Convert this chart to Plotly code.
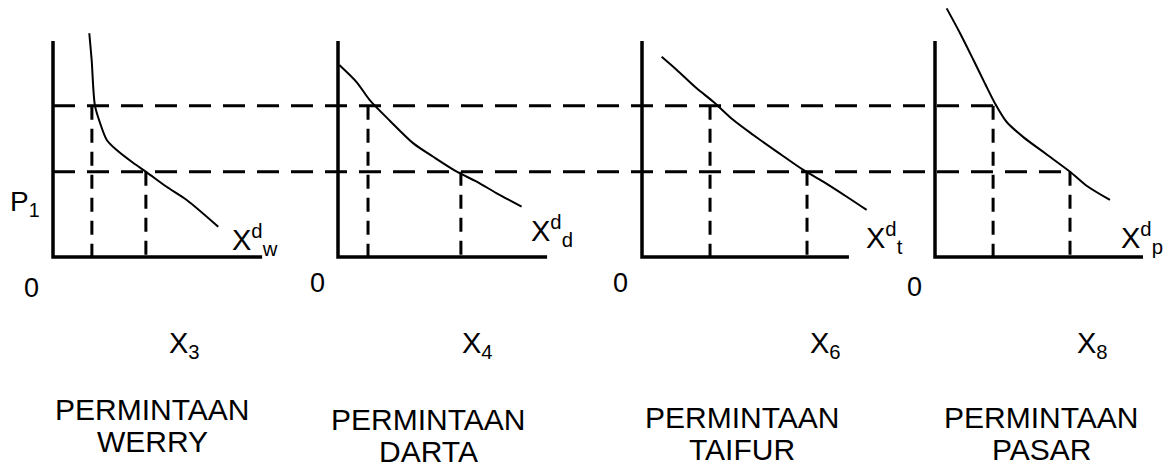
import plotly.graph_objects as go

# ---------------- data ----------------
PANEL_NAMES = ["WERRY", "DARTA", "TAIFUR", "PASAR"]
DEMAND_SUB = ["w", "d", "t", "p"]
QTY_SUB = ["3", "4", "6", "8"]
TITLE_WORD = "PERMINTAAN"

P_HIGH = 7.0      # upper price line
P_ONE = 3.95      # price P1

# demand curves: quantity / price pairs
WERRY_Q = [1.68, 1.79, 1.94, 2.18, 2.49, 2.95, 3.72, 4.34, 5.26, 6.19, 7.65]
WERRY_P = [10.36, 9.12, 7.02, 6.20, 5.42, 4.95, 4.35, 3.92, 3.25, 2.64, 1.40]
DARTA_Q = [0.06, 0.86, 1.48, 2.41, 3.49, 4.41, 5.50, 6.42, 7.35, 8.50]
DARTA_P = [8.89, 8.10, 7.25, 6.30, 5.26, 4.64, 3.95, 3.49, 2.95, 2.33]
TAIFUR_Q = [0.91, 1.61, 2.53, 3.30, 4.23, 5.15, 6.24, 7.47, 8.39, 9.48, 10.40]
TAIFUR_P = [9.27, 8.66, 7.81, 7.19, 6.34, 5.65, 4.88, 4.03, 3.49, 2.79, 2.18]
PASAR_Q = [0.54, 1.16, 1.78, 2.31, 2.78, 3.32, 4.09, 5.10, 6.25, 7.02, 8.10]
PASAR_P = [11.51, 10.36, 9.12, 8.04, 7.11, 6.25, 5.55, 4.80, 3.95, 3.30, 2.64]

# quantities demanded at the two prices
Q_AT_HIGH = [1.80, 1.39, 3.15, 2.69]
Q_AT_P1 = [4.30, 5.69, 7.64, 6.25]

CURVES_Q = [WERRY_Q, DARTA_Q, TAIFUR_Q, PASAR_Q]
CURVES_P = [WERRY_P, DARTA_P, TAIFUR_P, PASAR_P]

# ---------------- layout constants ----------------
W, H = 1169, 470
S = 21.6            # pixels per unit
BASE_PX = 257       # pixel row of the quantity axes
ORIGIN_PX = [53, 338, 642, 935]
AXIS_TOP = 10.0
AXIS_LEN = [9.68, 9.68, 9.58, 9.63]
FONT = "Liberation Sans, Arial, sans-serif"


def xu(px):
    return px / S


def yu(py):
    return (BASE_PX - py) / S


ORIGIN = [xu(p) for p in ORIGIN_PX]

fig = go.Figure()

# axes of each panel
for i in range(4):
    o = ORIGIN[i]
    fig.add_trace(go.Scatter(x=[o, o, o + AXIS_LEN[i]], y=[AXIS_TOP, 0, 0],
                             mode="lines", line=dict(color="black", width=3.5),
                             hoverinfo="skip"))

# horizontal price lines across all panels
fig.add_trace(go.Scatter(x=[ORIGIN[0], ORIGIN[3] + Q_AT_HIGH[3]], y=[P_HIGH, P_HIGH],
                         mode="lines", line=dict(color="black", width=3, dash="22px,12px"),
                         hoverinfo="skip"))
fig.add_trace(go.Scatter(x=[ORIGIN[0], ORIGIN[3] + Q_AT_P1[3]], y=[P_ONE, P_ONE],
                         mode="lines", line=dict(color="black", width=3, dash="22px,12px"),
                         hoverinfo="skip"))

# vertical drop lines and demand curves
for i in range(4):
    o = ORIGIN[i]
    for q, p in ((Q_AT_HIGH[i], P_HIGH), (Q_AT_P1[i], P_ONE)):
        fig.add_trace(go.Scatter(x=[o + q, o + q], y=[p, 0], mode="lines",
                                 line=dict(color="black", width=3, dash="14px,9px"),
                                 hoverinfo="skip"))
    fig.add_trace(go.Scatter(x=[o + q for q in CURVES_Q[i]], y=CURVES_P[i],
                             mode="lines",
                             line=dict(color="black", width=2, shape="spline", smoothing=0.8),
                             hoverinfo="skip"))

ann = []


def label(text, px, py, anchor="center", size=29):
    ann.append(dict(text=text, x=xu(px), y=yu(py), xref="x", yref="y",
                    showarrow=False, xanchor=anchor, yanchor="middle",
                    font=dict(family=FONT, size=size, color="black")))


# P1
label("P<sub>1</sub>", 25, 203, size=28)
# zeros
for (zx, zy) in [(31, 288), (317, 283), (620, 283), (914, 287)]:
    label("0", zx, zy, size=27)
# demand labels
for (lx, ly), s in zip([(230, 240), (529, 231), (864, 238), (1119, 238)], DEMAND_SUB):
    label("X<sup>d</sup><sub>%s</sub>" % s, lx, ly, anchor="left")
# quantity labels
for lx, s in zip([167, 460, 808, 1075], QTY_SUB):
    label("X<sub>%s</sub>" % s, lx, 345, anchor="left")
# titles
title_x = [152, 428, 742, 1041]
title_y = [(409, 441), (419, 451), (417, 449), (417, 449)]
for tx, (y1, y2), name in zip(title_x, title_y, PANEL_NAMES):
    label(TITLE_WORD, tx, y1, size=30)
    label(name, tx, y2, size=30)

fig.update_layout(
    width=W, height=H, margin=dict(l=0, r=0, t=0, b=0),
    paper_bgcolor="white", plot_bgcolor="white", showlegend=False,
    xaxis=dict(visible=False, range=[0, xu(W)], fixedrange=True),
    yaxis=dict(visible=False, range=[yu(H), yu(0)], fixedrange=True),
    annotations=ann,
)

fig.write_html("out.html", config={"displayModeBar": False},
               post_script="document.body.style.margin='0';document.body.style.overflow='hidden';")
